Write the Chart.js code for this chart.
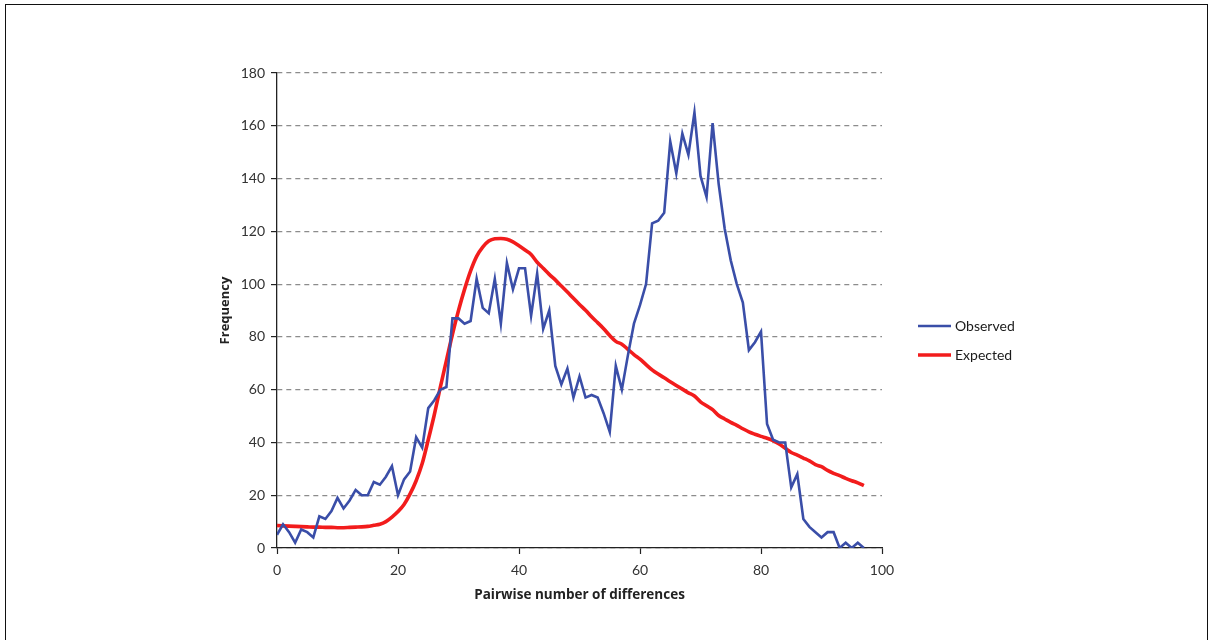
<!DOCTYPE html>
<html>
<head>
<meta charset="utf-8">
<title>Mismatch distribution</title>
<script src="https://cdn.jsdelivr.net/npm/chart.js@4/dist/chart.umd.min.js"></script>
<style>
  html, body { margin: 0; padding: 0; background: #fff; }
  #wrap { position: relative; width: 1215px; height: 640px; overflow: hidden; }
  #frame { position: absolute; left: 5px; top: 4px; width: 1203px; height: 700px; border: 1px solid #111; box-sizing: border-box; pointer-events: none; }
  canvas { position: absolute; left: 0; top: 0; }
</style>
</head>
<body>
<div id="wrap">
  <canvas id="chart" width="1215" height="640"></canvas>
  <div id="frame"></div>
</div>
<script>
// Pairwise differences 0..97
const differences = Array.from({ length: 98 }, (_, i) => i);

const observed = [
  5, 9, 6, 2, 7, 6, 4, 12, 11, 14,
  19, 15, 18, 22, 20, 20, 25, 24, 27, 31,
  20, 26, 29, 42, 38, 53, 56, 60, 61, 87,
  87, 85, 86, 102, 91, 89, 102, 85, 108, 98,
  106, 106, 88, 104, 83, 90, 69, 62, 68, 57,
  65, 57, 58, 57, 51, 44, 69, 60, 73, 85,
  92, 100, 123, 124, 127, 154, 142, 157, 149, 165,
  141, 133, 161, 138, 121, 109, 100, 93, 75, 78,
  82, 47, 41, 40, 40, 23, 28, 11, 8, 6,
  4, 6, 6, 0, 2, 0, 2, 0
];

const expected = [
  8.5, 8.4, 8.3, 8.2, 8.1, 8.0, 7.9, 7.9, 7.8, 7.8,
  7.7, 7.7, 7.8, 7.9, 8.0, 8.2, 8.6, 9.0, 10.0, 11.7,
  13.8, 16.5, 20.5, 25.5, 32, 41, 50.5, 61, 71, 81,
  90, 98, 105, 110.5, 114, 116.3, 117.2, 117.3, 117, 116,
  114.5, 112.9, 111.2, 108.3, 106, 103.7, 101.6, 99.3, 97, 94.6,
  92.3, 90.1, 87.6, 85.4, 83.1, 80.5, 78.3, 77.2, 75.3, 73.3,
  71.6, 69.5, 67.5, 65.9, 64.5, 63, 61.6, 60.2, 58.8, 57.6,
  55.4, 53.9, 52.4, 50.2, 48.9, 47.6, 46.5, 45.2, 44, 43.1,
  42.3, 41.6, 40.7, 39.4, 37.8, 36.2, 35.2, 34.1, 33, 31.6,
  30.8, 29.4, 28.3, 27.4, 26.4, 25.5, 24.7, 23.6
];

const xTicks = [0, 20, 40, 60, 80, 100];
const yTicks = [0, 20, 40, 60, 80, 100, 120, 140, 160, 180];

const BLUE = '#3a4ea8';
const RED = '#f21c1c';
const FONT = 'Lato, "Open Sans", "Liberation Sans", sans-serif';
const TITLE_FONT = '"Open Sans", Lato, "Liberation Sans", sans-serif';

// Legend drawn beside the plot, built from the datasets
const sideLegend = {
  id: 'sideLegend',
  afterDraw(chart) {
    const ctx = chart.ctx;
    const area = chart.chartArea;
    const x0 = area.right + 36;
    const yStart = 326;
    const gap = 29;
    ctx.save();
    ctx.font = '14px ' + FONT;
    ctx.textBaseline = 'middle';
    ctx.textAlign = 'left';
    chart.data.datasets.forEach((ds, i) => {
      const y = yStart + i * gap;
      ctx.strokeStyle = ds.borderColor;
      ctx.lineWidth = ds.borderWidth;
      ctx.beginPath();
      ctx.moveTo(x0, y);
      ctx.lineTo(x0 + 33, y);
      ctx.stroke();
      ctx.fillStyle = '#1a1a1a';
      ctx.fillText(ds.label, x0 + 37, y);
    });
    ctx.restore();
  }
};

new Chart(document.getElementById('chart'), {
  type: 'line',
  data: {
    datasets: [
      {
        label: 'Observed',
        data: differences.map((d, i) => ({ x: d, y: observed[i] })),
        borderColor: BLUE,
        borderWidth: 2.6,
        pointRadius: 0,
        tension: 0,
        fill: false
      },
      {
        label: 'Expected',
        data: differences.map((d, i) => ({ x: d, y: expected[i] })),
        borderColor: RED,
        borderWidth: 3.6,
        pointRadius: 0,
        cubicInterpolationMode: 'monotone',
        fill: false
      }
    ]
  },
  options: {
    responsive: false,
    animation: false,
    events: [],
    layout: { padding: { left: 213, right: 333, top: 73, bottom: 33 } },
    plugins: {
      legend: { display: false },
      tooltip: { enabled: false }
    },
    scales: {
      x: {
        type: 'linear',
        min: 0,
        max: 100,
        afterBuildTicks(scale) { scale.ticks = xTicks.map(v => ({ value: v })); },
        afterFit(scale) { scale.height = 59; },
        grid: {
          drawOnChartArea: false,
          drawTicks: true,
          tickLength: 6,
          tickColor: '#222',
          tickWidth: 1.2
        },
        border: { display: true, color: '#222', width: 1.3 },
        ticks: {
          color: '#333',
          padding: 8,
          maxRotation: 0,
          font: { family: FONT, size: 14 }
        },
        title: {
          display: true,
          text: 'Pairwise number of differences',
          color: '#222',
          font: { family: TITLE_FONT, size: 13.5, weight: 'bold' },
          padding: { top: 4, bottom: 4 }
        }
      },
      y: {
        type: 'linear',
        min: 0,
        max: 180,
        afterBuildTicks(scale) { scale.ticks = yTicks.map(v => ({ value: v })); },
        afterFit(scale) { scale.width = 64; },
        grid: {
          color: '#8c8c8c',
          lineWidth: 1.2,
          drawTicks: true,
          tickLength: 6,
          tickColor: '#222',
          tickWidth: 1.2,
          tickBorderDash: []
        },
        border: { display: true, color: '#222', width: 1.3, dash: [5, 4] },
        ticks: {
          color: '#333',
          padding: 6,
          font: { family: FONT, size: 14 }
        },
        title: {
          display: true,
          text: 'Frequency',
          color: '#222',
          font: { family: TITLE_FONT, size: 13, weight: 'bold' },
          padding: { top: 4, bottom: 4 }
        }
      }
    }
  },
  plugins: [sideLegend]
});
</script>
</body>
</html>
